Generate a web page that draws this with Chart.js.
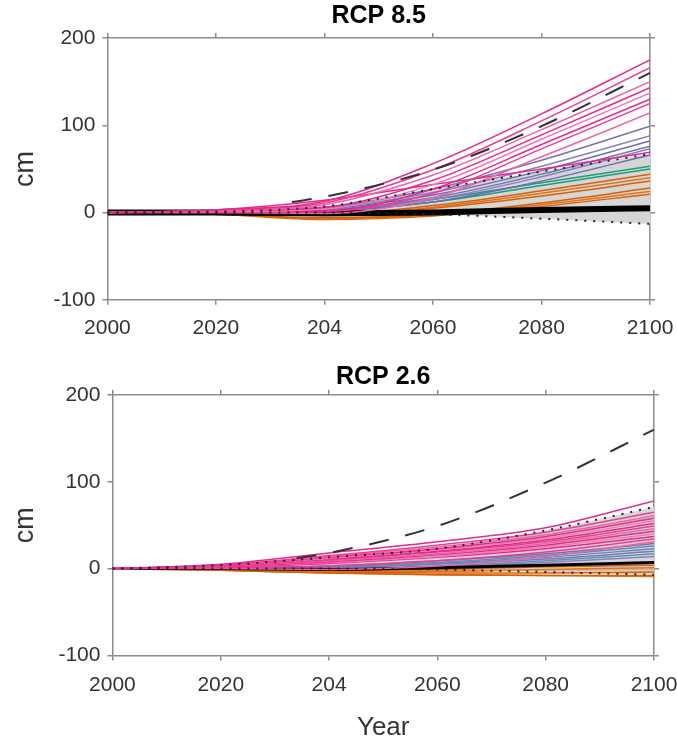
<!DOCTYPE html>
<html>
<head>
<meta charset="utf-8">
<script src="https://cdn.jsdelivr.net/npm/chart.js@4.4.1/dist/chart.umd.min.js"></script>
<style>
  body { margin: 0; background: #fff; }
  canvas { position: absolute; left: 0; }
</style>
</head>
<body>
<canvas id="chart-rcp85" width="677" height="352" style="top:0"></canvas>
<canvas id="chart-rcp26" width="677" height="395" style="top:345px"></canvas>
<script>
// years sampled every 20 years, both panels
const years = [2000, 2020, 2040, 2060, 2080, 2100];
const yearLabels = ["2000", "2020", "204", "2060", "2080", "2100"];
const cmTicks = [-100, 0, 100, 200];

// shared dashed line (same in both panels), only visible from ~2034
const dashedYears = [2034, 2040, 2060, 2080, 2100];
const dashedValues = [12, 18, 49, 99, 160];

// ---- RCP 8.5 ----
const pink85 = [
  [0, 3, 13, 56, 113, 175],
  [0, 3, 11, 49, 105, 166],
  [0, 2, 9, 43, 95, 150],
  [0, 2, 6, 37, 89, 143],
  [0, 1, 4, 32, 84, 137],
  [0, 1, 2, 27, 78, 130],
  [0, 0, 1, 22, 73, 125],
  [0, 0, -1, 17, 64, 114],
  [0, 3, 14, 32, 50, 69],
];
const purple85 = [
  [0, 2, 6, 27, 60, 99],
  [0, 1, 5, 23, 53, 88],
  [0, 1, 4, 20, 48, 82],
  [0, 1, 3, 17, 44, 76],
  [0, 1, 3, 15, 41, 73],
  [0, 0, 2, 12, 36, 66],
];
const green85 = [
  [0, 1, 2, 15, 34, 53],
  [0, 0, 1, 12, 31, 50],
];
const orange85 = [
  [0, -1, -2, 8, 25, 44],
  [0, -1, -3, 6, 22, 40],
  [0, -1, -3, 5, 19, 36],
  [0, -2, -6, -2, 11, 28],
  [0, -2, -7, -3, 9, 24],
  [0, -2, -8, -4, 7, 21],
];
const black85 = [0, 0, -1, 0, 3, 5];
const upper85 = [0, 1, 7, 27, 47, 67];
const lower85 = [0, 0, 0, -2, -7, -13];

// ---- RCP 2.6 ----
const pink26 = [
  [0, 5, 18, 31, 47, 78],
  [0, 4, 15, 27, 42, 65],
  [0, 4, 14, 25, 39, 61],
  [0, 3, 13, 23, 37, 58],
  [0, 3, 12, 22, 35, 55],
  [0, 3, 11, 20, 33, 52],
  [0, 3, 10, 19, 31, 49],
  [0, 3, 9, 17, 29, 46],
  [0, 2, 8, 16, 27, 43],
  [0, 2, 7, 14, 25, 40],
  [0, 2, 6, 13, 23, 37],
  [0, 1, 3, 9, 19, 34],
  [0, 0, -1, 3, 14, 31],
];
const blue26 = [
  [0, 1, 3, 9, 17, 29],
  [0, 1, 2, 7, 15, 26],
  [0, 1, 2, 6, 13, 23],
  [0, 0, 1, 5, 11, 20],
  [0, 0, 0, 3, 9, 17],
  [0, 0, 0, 2, 7, 14],
];
const orange26 = [
  [0, -1, -2, -1, 2, 4],
  [0, -1, -3, -3, -1, 1],
  [0, -1, -4, -5, -5, -4],
  [0, -2, -5, -7, -8, -8],
  [0, -2, -5, -7, -8, -9],
];
const tan26 = [0, -1, -2, -2, -2, -1];
const black26 = [0, 0, -1, 1, 4, 7];
const upper26 = [0, 4, 13, 23, 44, 71];
const lower26 = [0, 0, 0, -1, -4, -7];

const FONT = "'Liberation Sans', Arial, sans-serif";
const AXIS = "#8c8c8c";
const BAND = "#d6d6d6";
const PINKS = ["#e7298a", "#ea3d95", "#ee63a8", "#e7298a", "#f07ab5"];
const PURPLES = ["#7570b3", "#8680c2", "#6f6bb0"];
const BLUES = ["#7570b3", "#6a86b8", "#5b8fb5", "#7f76bd", "#5e94b0", "#8a80c4"];
const ORANGES = ["#d95f02", "#e0731a", "#d95f02"];

function curve(values, color, width, order, extra) {
  return Object.assign({
    data: values,
    borderColor: color,
    borderWidth: width,
    pointRadius: 0,
    fill: false,
    order: order,
    cubicInterpolationMode: "monotone",
  }, extra || {});
}

function buildDatasets(p) {
  const sets = [];
  // grey envelope: upper fills down to the next dataset (lower)
  sets.push(curve(p.upper, "rgba(0,0,0,0)", 0, 20, { fill: "+1", backgroundColor: BAND }));
  sets.push(curve(p.lower, "rgba(0,0,0,0)", 0, 20));
  (p.tan || []).forEach((v) => sets.push(curve(v, "#d8b48e", 1.5, 7)));
  p.orange.forEach((v, i) => sets.push(curve(v, ORANGES[i % ORANGES.length], 1.5, 6)));
  (p.green || []).forEach((v) => sets.push(curve(v, "#1b9e77", 1.5, 5)));
  p.purple.forEach((v, i) => sets.push(curve(v, p.purpleColors[i % p.purpleColors.length], 1.5, 4)));
  sets.push(curve(p.black, "#000", p.blackWidth, 3.5));
  p.pink.forEach((v, i) => sets.push(curve(v, PINKS[i % PINKS.length], 1.5, 3)));
  sets.push(curve(p.upper, "#222", 2, 1, { borderDash: [2, 7] }));
  sets.push(curve(p.lower, "#222", 2, 1, { borderDash: [2, 7] }));
  const dashed = dashedYears.map((x, i) => ({ x: x, y: dashedValues[i] }));
  sets.push(curve(dashed, "#333", 2, 0, { borderDash: [20, 17] }));
  return sets;
}

function initPanel(id, p) {
  const ctx = document.getElementById(id);
  if (!ctx) return;

  const edge = { drawOnChartArea: false, tickLength: 5, color: AXIS, lineWidth: 1.5 };
  const border = { color: AXIS, width: 1.5 };

  new Chart(ctx, {
    type: "line",
    data: { labels: years, datasets: buildDatasets(p) },
    options: {
      responsive: false,
      animation: false,
      events: [],
      layout: { padding: p.padding },
      plugins: {
        legend: { display: false },
        tooltip: { enabled: false },
        title: {
          display: true,
          text: p.title,
          fullSize: false,
          color: "#000",
          font: { family: FONT, size: 25, weight: "bold", lineHeight: 1 },
          padding: p.titlePad,
        },
      },
      scales: {
        x: {
          type: "linear",
          min: 2000,
          max: 2100,
          afterBuildTicks: (s) => { s.ticks = years.map((v) => ({ value: v })); },
          // let the "2100" label hang past the plot edge
          afterFit: (s) => { s.paddingRight = 0; },
          ticks: {
            padding: p.xPad,
            color: "#333",
            font: { family: FONT, size: 21 },
            callback: (v) => yearLabels[years.indexOf(v)],
          },
          grid: edge,
          border: border,
          title: p.xTitle,
        },
        x2: {
          type: "linear",
          position: "top",
          min: 2000,
          max: 2100,
          afterBuildTicks: (s) => { s.ticks = years.map((v) => ({ value: v })); },
          ticks: { display: false },
          grid: edge,
          border: border,
        },
        y: {
          min: -100,
          max: 200,
          afterBuildTicks: (s) => { s.ticks = cmTicks.map((v) => ({ value: v })); },
          ticks: { padding: 7, color: "#333", font: { family: FONT, size: 21 } },
          grid: edge,
          border: border,
          title: {
            display: true,
            text: "cm",
            color: "#333",
            font: { family: FONT, size: 27 },
            padding: p.yTitlePad,
          },
        },
        y2: {
          position: "right",
          min: -100,
          max: 200,
          afterBuildTicks: (s) => { s.ticks = cmTicks.map((v) => ({ value: v })); },
          ticks: { display: false },
          grid: edge,
          border: border,
        },
      },
    },
  });
}

initPanel("chart-rcp85", {
  title: "RCP 8.5",
  pink: pink85,
  purple: purple85,
  purpleColors: PURPLES,
  green: green85,
  orange: orange85,
  black: black85,
  blackWidth: 6,
  upper: upper85,
  lower: lower85,
  padding: { left: 0, right: 22, top: 0, bottom: 0 },
  titlePad: { top: 4, bottom: 4 },
  xPad: 11,
  yTitlePad: { top: 9, bottom: 5 },
  xTitle: { display: false },
});

initPanel("chart-rcp26", {
  title: "RCP 2.6",
  pink: pink26,
  purple: blue26,
  purpleColors: BLUES,
  orange: orange26,
  tan: [tan26],
  black: black26,
  blackWidth: 3,
  upper: upper26,
  lower: lower26,
  padding: { left: 0, right: 18, top: 0, bottom: 0 },
  titlePad: { top: 20, bottom: 0 },
  xPad: 12,
  yTitlePad: { top: 9, bottom: 10 },
  xTitle: {
    display: true,
    text: "Year",
    color: "#333",
    font: { family: FONT, size: 26, lineHeight: 0.9 },
    padding: { top: 7, bottom: 0 },
  },
});
</script>
</body>
</html>
